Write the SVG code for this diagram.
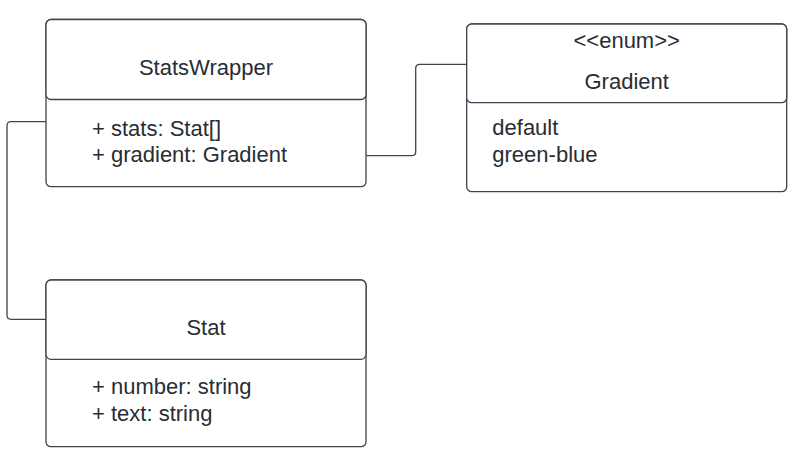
<svg xmlns="http://www.w3.org/2000/svg" width="806" height="467" viewBox="0 0 806 467">
<style>
.box{fill:#ffffff;stroke:#3d444e;stroke-width:1.3}
.conn{fill:none;stroke:#3d444e;stroke-width:1.3}
text{font-family:"Liberation Sans",Arial,sans-serif;font-size:22px;fill:#282d35}
.c{text-anchor:middle}
</style>
<rect width="806" height="467" fill="#ffffff"/>
<g id="connectors">
<path class="conn" d="M46,121.7 H11 Q7,121.7 7,125.7 V315.3 Q7,319.3 11,319.3 H46"/>
<path class="conn" d="M366,155.7 H411.7 Q415.7,155.7 415.7,151.7 V68.3 Q415.7,64.3 419.7,64.3 H466.7"/>
</g>
<g id="StatsWrapper">
<rect class="box" x="46" y="19.5" width="320" height="167.2" rx="5"/>
<rect class="box" x="46" y="19.5" width="320" height="80" rx="5"/>
<text class="c" x="206" y="75">StatsWrapper</text>
<text x="92" y="136">+ stats: Stat[]</text>
<text x="92" y="161.7">+ gradient: Gradient</text>
</g>
<g id="Gradient">
<rect class="box" x="466.7" y="24" width="320" height="167.7" rx="5"/>
<rect class="box" x="466.7" y="24" width="320" height="78.7" rx="5"/>
<text class="c" x="626.7" y="48.3">&lt;&lt;enum&gt;&gt;</text>
<text class="c" x="626.7" y="89.3">Gradient</text>
<text x="492.3" y="135">default</text>
<text x="492.3" y="161.7">green-blue</text>
</g>
<g id="Stat">
<rect class="box" x="46" y="280" width="320" height="166.7" rx="5"/>
<rect class="box" x="46" y="280" width="320" height="79.3" rx="5"/>
<text class="c" x="206" y="335">Stat</text>
<text x="92" y="394">+ number: string</text>
<text x="92" y="420.7">+ text: string</text>
</g>
</svg>
